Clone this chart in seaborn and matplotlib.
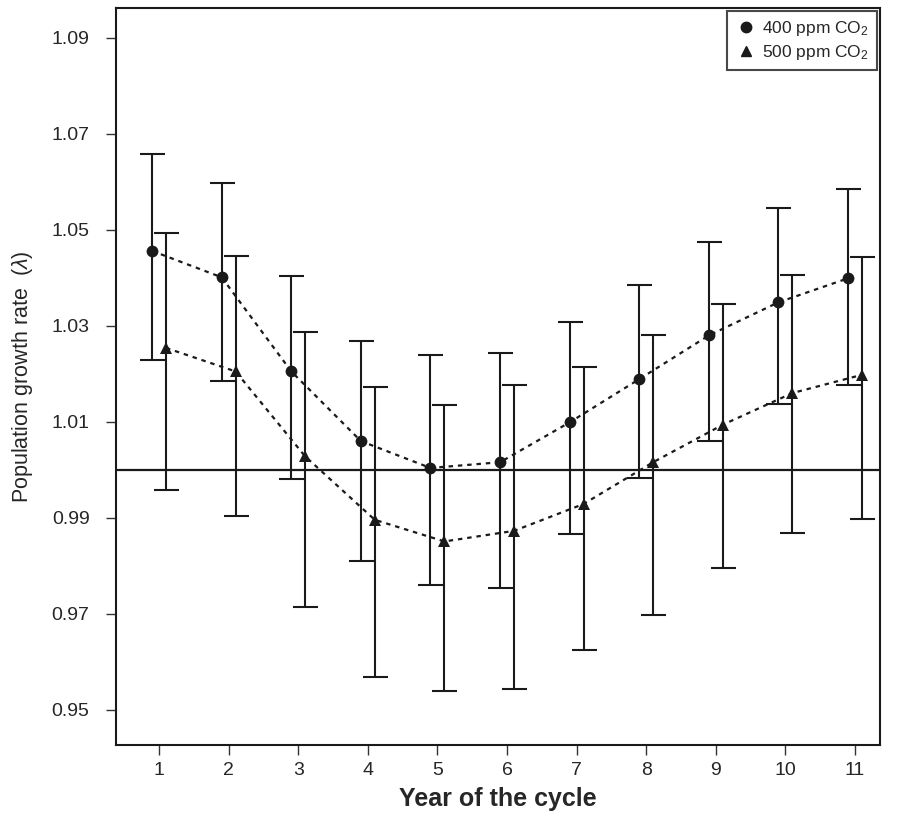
import numpy as np
import pandas as pd
import seaborn as sns
import matplotlib.pyplot as plt
from matplotlib.lines import Line2D

# values
years = [1, 2, 3, 4, 5, 6, 7, 8, 9, 10, 11]

lam_400 = [1.0456, 1.0401, 1.0205, 1.0060, 1.0004, 1.0016, 1.0099, 1.0189, 1.0280, 1.0349, 1.0399]
up_400 = [1.0657, 1.0597, 1.0403, 1.0268, 1.0240, 1.0243, 1.0309, 1.0386, 1.0475, 1.0546, 1.0585]
lo_400 = [1.0229, 1.0185, 0.9981, 0.9810, 0.9760, 0.9755, 0.9866, 0.9983, 1.0060, 1.0137, 1.0176]

lam_500 = [1.0254, 1.0205, 1.0028, 0.9896, 0.9851, 0.9873, 0.9929, 1.0016, 1.0094, 1.0160, 1.0198]
up_500 = [1.0493, 1.0446, 1.0288, 1.0173, 1.0135, 1.0176, 1.0214, 1.0281, 1.0346, 1.0406, 1.0444]
lo_500 = [0.9958, 0.9905, 0.9715, 0.9569, 0.9540, 0.9544, 0.9625, 0.9698, 0.9795, 0.9869, 0.9897]

yticks = [0.95, 0.97, 0.99, 1.01, 1.03, 1.05, 1.07, 1.09]

sns.set_style("ticks")
plt.rcParams['font.family'] = ['Liberation Sans', 'DejaVu Sans']
plt.rcParams['mathtext.fontset'] = 'custom'
plt.rcParams['mathtext.rm'] = 'Liberation Sans'
plt.rcParams['mathtext.it'] = 'Liberation Sans:italic'

df = pd.DataFrame({
    'year': years * 2,
    'lam': lam_400 + lam_500,
    'up': up_400 + up_500,
    'lo': lo_400 + lo_500,
    'co2': ['400'] * len(years) + ['500'] * len(years),
})
shift = {'400': -0.1, '500': 0.1}
df['x'] = df['year'] + df['co2'].map(shift)

fig = plt.figure(figsize=(9.01, 8.13), dpi=100)
ax = fig.add_axes([0.1287, 0.0836, 0.848, 0.9066])

ax.axhline(1.0, color='#1a1a1a', lw=1.6, zorder=1)

for co2, mk, ms in [('400', 'o', 8.5), ('500', '^', 8)]:
    d = df[df['co2'] == co2]
    ax.errorbar(d['x'], d['lam'], yerr=[d['lam'] - d['lo'], d['up'] - d['lam']],
                fmt='none', ecolor='#1a1a1a', elinewidth=1.5, capsize=9, capthick=1.5, zorder=2)
    sns.lineplot(data=d, x='x', y='lam', ax=ax, color='#1a1a1a', lw=1.6,
                 linestyle=(0, (2, 2.2)), marker=mk, markersize=ms,
                 markeredgewidth=0, markerfacecolor='#1a1a1a', zorder=3)

ax.set_xlim(0.38, 11.36)
ax.set_ylim(0.9427, 1.0962)
ax.set_xticks(years)
ax.set_yticks(yticks)
ax.set_yticklabels([f"{v:.2f}" for v in yticks])
ax.tick_params(axis='both', labelsize=14, length=7, width=1, color='#333333')
ax.tick_params(axis='y', pad=12)
ax.tick_params(axis='x', pad=5)
for s in ax.spines.values():
    s.set_visible(True)
    s.set_linewidth(1.5)
    s.set_color('#1a1a1a')

ax.set_xlabel('Year of the cycle', fontsize=18, fontweight='bold', labelpad=6)
ax.set_ylabel(r'Population growth rate  ($\lambda$)', fontsize=15.5, labelpad=12)

handles = [
    Line2D([], [], marker='o', color='#1a1a1a', ls='none', markersize=7.5),
    Line2D([], [], marker='^', color='#1a1a1a', ls='none', markersize=7.5),
]
leg = ax.legend(handles, [r'400 ppm CO$_\mathregular{2}$', r'500 ppm CO$_\mathregular{2}$'],
                loc='upper right', fontsize=12.5, frameon=True, fancybox=False,
                borderaxespad=0.15, handletextpad=0.3, handlelength=1.2, borderpad=0.5,
                labelspacing=0.25)
leg.get_frame().set_edgecolor('#1a1a1a')
leg.get_frame().set_linewidth(1.5)

fig.savefig('out.png', dpi=100)
